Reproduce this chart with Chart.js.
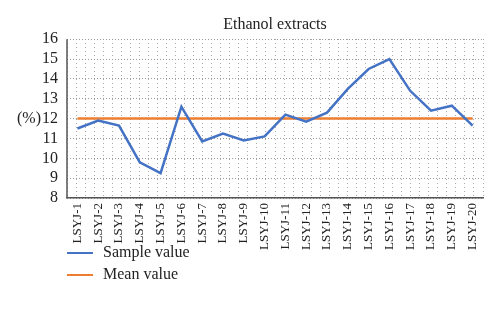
<!DOCTYPE html>
<html>
<head>
<meta charset="utf-8">
<script src="https://cdn.jsdelivr.net/npm/chart.js@4"></script>
<style>
  html, body { margin: 0; padding: 0; background: #fff; }
  #wrap { width: 500px; height: 329px; }
</style>
</head>
<body>
<div id="wrap"><canvas id="chart" width="500" height="329"></canvas></div>
<script>
// data
const categories = ['LSYJ-1', 'LSYJ-2', 'LSYJ-3', 'LSYJ-4', 'LSYJ-5', 'LSYJ-6', 'LSYJ-7', 'LSYJ-8', 'LSYJ-9', 'LSYJ-10',
    'LSYJ-11', 'LSYJ-12', 'LSYJ-13', 'LSYJ-14', 'LSYJ-15', 'LSYJ-16', 'LSYJ-17', 'LSYJ-18', 'LSYJ-19', 'LSYJ-20'];
const sampleValues = [11.5, 11.9, 11.65, 9.8, 9.25, 12.6, 10.85, 11.25, 10.9, 11.1,
    12.2, 11.85, 12.3, 13.5, 14.5, 15.0, 13.4, 12.4, 12.65, 11.65];
const meanValue = 12.0;
const meanValues = categories.map(() => meanValue);
const yTicks = [8, 9, 10, 11, 12, 13, 14, 15, 16];

const serif = "'Liberation Serif', 'DejaVu Serif', serif";
const blue = '#4472C4';
const orange = '#ED7D31';

// solid y axis line, "(%)" unit label, and the stacked legend below the chart
const extras = {
    id: 'extras',
    afterDraw(chart) {
        const ctx = chart.ctx;
        const y = chart.scales.y;
        const area = chart.chartArea;
        ctx.save();
        ctx.strokeStyle = '#555';
        ctx.lineWidth = 1.5;
        ctx.beginPath();
        ctx.moveTo(area.left, area.top);
        ctx.lineTo(area.left, area.bottom);
        ctx.stroke();

        ctx.fillStyle = '#222';
        ctx.font = '16px ' + serif;
        ctx.textAlign = 'center';
        ctx.textBaseline = 'middle';
        ctx.fillText('(%)', 29, y.getPixelForValue(12));

        ctx.textAlign = 'left';
        chart.data.datasets.forEach((ds, i) => {
            const ly = 253 + i * 22;
            ctx.strokeStyle = ds.borderColor;
            ctx.lineWidth = 2;
            ctx.beginPath();
            ctx.moveTo(67, ly);
            ctx.lineTo(93, ly);
            ctx.stroke();
            ctx.fillStyle = '#222';
            ctx.fillText(ds.label, 103, ly);
        });
        ctx.restore();
    }
};

new Chart(document.getElementById('chart'), {
    type: 'line',
    data: {
        labels: categories,
        datasets: [{
            label: 'Sample value',
            data: sampleValues,
            borderColor: blue,
            borderWidth: 2.5,
            pointRadius: 0,
            tension: 0,
            fill: false
        }, {
            label: 'Mean value',
            data: meanValues,
            borderColor: orange,
            borderWidth: 2.5,
            pointRadius: 0,
            tension: 0,
            fill: false
        }]
    },
    options: {
        responsive: false,
        animation: false,
        layout: { padding: { left: 0, right: 17, top: 0, bottom: 75 } },
        plugins: {
            legend: { display: false },
            tooltip: { enabled: false },
            title: {
                display: true,
                text: 'Ethanol extracts',
                fullSize: false,
                color: '#222',
                font: { family: serif, size: 16, weight: 'normal' },
                padding: { top: 15, bottom: 5 }
            }
        },
        scales: {
            x: {
                type: 'category',
                offset: true,
                grid: { display: false, drawTicks: false },
                border: { display: true, color: '#555', width: 1.5 },
                ticks: {
                    color: '#222',
                    font: { family: serif, size: 13 },
                    minRotation: 90,
                    maxRotation: 90,
                    padding: 5,
                    autoSkip: false
                },
                afterFit(scale) { scale.height = 56; }
            },
            x2: {
                type: 'linear',
                position: 'top',
                min: 0,
                max: 46,
                ticks: { display: false, stepSize: 1 },
                grid: { color: '#aaa', lineWidth: 1, drawTicks: false },
                border: { display: false, dash: [1, 3] },
                afterFit(scale) { scale.height = 0; }
            },
            y: {
                min: 8,
                max: 16,
                afterBuildTicks(scale) { scale.ticks = yTicks.map(v => ({ value: v })); },
                grid: { color: '#999', lineWidth: 1, drawTicks: false },
                border: { display: false, dash: [1, 2] },
                ticks: {
                    color: '#222',
                    font: { family: serif, size: 16 },
                    padding: 9,
                    autoSkip: false
                },
                afterFit(scale) { scale.width = 67; }
            }
        }
    },
    plugins: [extras]
});
</script>
</body>
</html>
